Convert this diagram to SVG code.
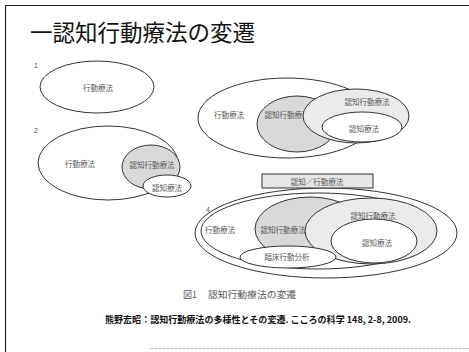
<svg xmlns="http://www.w3.org/2000/svg" width="469" height="352" viewBox="0 0 469 352">
<style>
.ln{stroke:#333;stroke-width:1;}
.w{fill:#fff;}
.s{fill:#d9d9d9;}
.l{fill:#ebebeb;}
.t{font-family:"Noto Sans CJK JP","Liberation Sans",sans-serif;font-size:7.5px;fill:#555;text-anchor:middle;dominant-baseline:central;}
.n{font-family:"Liberation Sans",sans-serif;font-size:7px;fill:#555;}
.c{font-family:"Noto Sans CJK JP","Liberation Sans",sans-serif;font-size:9px;fill:#555;}
</style>
<rect width="469" height="352" fill="#fff"/>
<g id="frame">
<path d="M5.5 352V5.5H469" fill="none" stroke="#222" stroke-width="1.2"/>
<path d="M150 348.5H469" fill="none" stroke="#bbb" stroke-width="1" stroke-dasharray="3 1"/>
</g>
<text x="30" y="41" font-family="'Noto Sans CJK JP','Liberation Sans',sans-serif" font-size="22.5" fill="#111">一認知行動療法の変遷</text>
<g id="connectors"/>
<g id="d1">
<text class="n" x="34" y="68">1</text>
<ellipse class="ln w" cx="97" cy="87" rx="57" ry="26"/>
<text class="t" x="98" y="87">行動療法</text>
</g>
<g id="d2">
<text class="n" x="34" y="133">2</text>
<ellipse class="ln w" cx="108" cy="163" rx="70" ry="37"/>
<text class="t" x="80" y="163">行動療法</text>
<ellipse class="ln s" cx="151" cy="167" rx="29" ry="22"/>
<text class="t" x="152" y="164">認知行動療法</text>
<ellipse class="ln w" cx="167" cy="186" rx="24" ry="11"/>
<text class="t" x="167" y="187">認知療法</text>
</g>
<g id="d3">
<text class="n" x="206" y="104">3</text>
<ellipse class="ln w" cx="287" cy="118" rx="89" ry="40"/>
<text class="t" x="229" y="114">行動療法</text>
<ellipse class="ln s" cx="297" cy="124" rx="40" ry="28"/>
<text class="t" x="287" y="114">認知行動療法</text>
<ellipse class="ln l" cx="356" cy="116" rx="53" ry="27"/>
<text class="t" x="367" y="101">認知行動療法</text>
<ellipse class="ln w" cx="362" cy="127" rx="40" ry="15"/>
<text class="t" x="364" y="128">認知療法</text>
</g>
<g id="d4">
<text class="n" x="206" y="212">4</text>
<ellipse class="ln w" cx="326" cy="233" rx="131" ry="45" stroke-width="1.3"/>
<ellipse class="ln w" cx="318" cy="231" rx="117" ry="38"/>
<text class="t" x="220" y="229">行動療法</text>
<ellipse class="ln s" cx="310" cy="229" rx="55" ry="32"/>
<text class="t" x="283" y="229">認知行動療法</text>
<ellipse class="ln l" cx="371" cy="231" rx="66" ry="33"/>
<text class="t" x="373" y="215">認知行動療法</text>
<ellipse class="ln w" cx="374" cy="241" rx="43" ry="22"/>
<text class="t" x="377" y="242">認知療法</text>
<ellipse class="ln w" cx="288" cy="257" rx="48" ry="11"/>
<text class="t" x="287" y="256">臨床行動分析</text>
<rect class="ln" x="262" y="174" width="111" height="14" fill="#e6e6e6"/>
<text class="t" x="317" y="181">認知／行動療法</text>
</g>
<g id="caption">
<text class="c" x="183" y="298">図1</text>
<text class="c" x="208" y="298" textLength="88" lengthAdjust="spacingAndGlyphs">認知行動療法の変遷</text>
</g>
<text x="105" y="323" font-family="'Noto Sans CJK JP','Liberation Sans',sans-serif" font-size="9" font-weight="bold" fill="#111" textLength="306" lengthAdjust="spacingAndGlyphs">熊野宏昭：認知行動療法の多様性とその変遷. こころの科学  148, 2-8, 2009.</text>
</svg>
